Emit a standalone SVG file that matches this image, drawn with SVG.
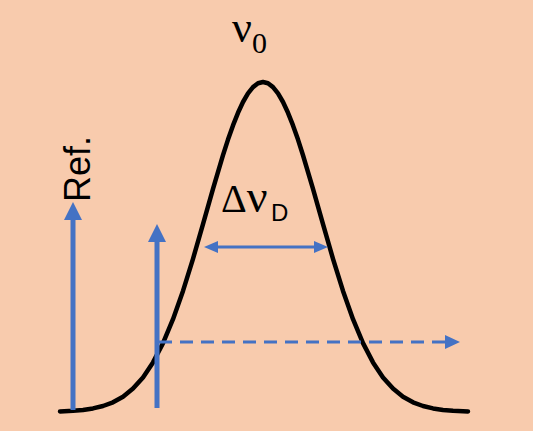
<svg xmlns="http://www.w3.org/2000/svg" width="533" height="431" viewBox="0 0 533 431">
<style>
.curve{fill:none;stroke:#000;stroke-width:4.5;stroke-linejoin:round;stroke-linecap:round}
.blue{stroke:#4472C4;fill:none}
.serif{font-family:"Liberation Serif","Times New Roman",serif;fill:#000}
.sans{font-family:"Liberation Sans",Arial,sans-serif;fill:#000}
</style>
<defs>
<marker id="bigHead" markerUnits="userSpaceOnUse" markerWidth="18" markerHeight="18" refX="0" refY="9" orient="auto" overflow="visible">
<path d="M0,0 L18,9 L0,18 Z" fill="#4472C4"/>
</marker>
<marker id="smallHead" markerUnits="userSpaceOnUse" markerWidth="15" markerHeight="14" refX="0" refY="7" orient="auto" overflow="visible">
<path d="M0,0 L15,7 L0,14 Z" fill="#4472C4"/>
</marker>
<marker id="fwhmEnd" markerUnits="userSpaceOnUse" markerWidth="14" markerHeight="12" refX="0" refY="6" orient="auto" overflow="visible">
<path d="M0,0 L14,6 L0,12 Z" fill="#4472C4"/>
</marker>
<marker id="fwhmStart" markerUnits="userSpaceOnUse" markerWidth="14" markerHeight="12" refX="0" refY="6" orient="auto-start-reverse" overflow="visible">
<path d="M0,0 L14,6 L0,12 Z" fill="#4472C4"/>
</marker>
</defs>
<rect width="533" height="431" fill="#F8CBAD"/>
<g id="gaussian">
<polyline class="curve" points="60,411.5 73,410.8 83,409.9 93,408.4 103,406 113,402.3 123,396.7 133,388.6 143,377.4 153,362.4 163,343.1 173,319.2 183,290.9 193,258.8 203,224.2 213,188.9 223,155.2 228,139.6 233,125.4 238,112.8 243,102 248,93.4 253,87.1 258,83.3 263,82 268,83.3 273,87.1 278,93.4 283,102 288,112.8 293,125.4 298,139.6 303,155.2 313,188.9 323,224.2 333,258.8 343,290.9 353,319.2 363,343.1 373,362.4 383,377.4 393,388.6 403,396.7 413,402.3 423,406 433,408.4 443,409.9 453,410.8 468,411.5"/>
</g>
<g id="connectors">
<line id="ref-arrow" class="blue" x1="73" y1="410" x2="73" y2="220" stroke-width="5" marker-end="url(#bigHead)"/>
<line id="probe-arrow" class="blue" x1="157" y1="408" x2="157" y2="242" stroke-width="5" marker-end="url(#bigHead)"/>
<line id="scan-arrow" class="blue" x1="159" y1="342" x2="445" y2="342" stroke-width="3" stroke-dasharray="13,8" marker-end="url(#smallHead)"/>
<line id="fwhm-arrow" class="blue" x1="218" y1="247" x2="314" y2="247" stroke-width="3" marker-start="url(#fwhmStart)" marker-end="url(#fwhmEnd)"/>
</g>
<g id="label-nu0">
<text class="serif" x="232" y="42" font-size="44">ν<tspan font-size="30" y="53">0</tspan></text>
</g>
<g id="label-ref">
<text class="sans" font-size="36" transform="translate(90,202) rotate(-90)">Ref.</text>
</g>
<g id="label-dnuD">
<text class="serif" x="221" y="212" font-size="40">Δ<tspan font-size="46">ν</tspan><tspan class="sans" font-size="24" x="271" y="221">D</tspan></text>
</g>
</svg>
